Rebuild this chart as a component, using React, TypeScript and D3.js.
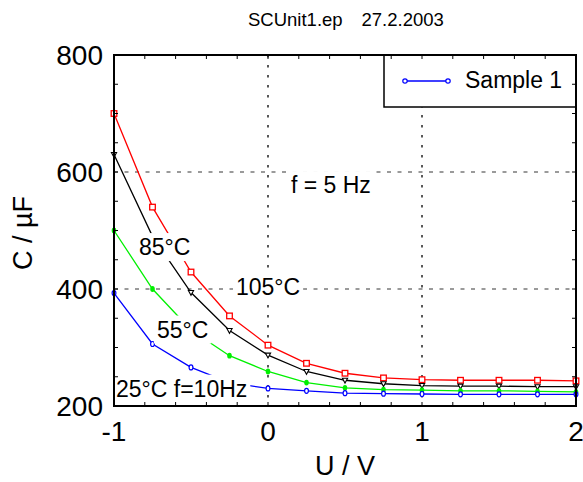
import React, { useEffect, useRef } from "react";
import * as d3 from "d3";

// ---- data ----
const voltages = [-1, -0.75, -0.5, -0.25, 0, 0.25, 0.5, 0.75, 1, 1.25, 1.5, 1.75, 2];
const c105 = [700, 540, 429, 354, 304, 273, 256, 248, 245, 244, 244, 244, 243];
const c85 = [630, 490, 394, 329, 287, 259, 244, 238, 235, 234, 234, 233, 233];
const c55 = [500, 400, 330, 286, 259, 240, 231, 228, 227, 226, 226, 225, 224];
const c25 = [393, 306, 266, 240, 230, 226, 222, 221, 220.5, 220, 220, 220, 220];
const xTicks = [-1, 0, 1, 2];
const yTicks = [200, 400, 600, 800];
const xGrid = [0, 1];
const yGrid = [400, 600];
const titleParts = ["SCUnit1.ep", "27.2.2003"];
const legendLabels = ["Sample 1"];
const annotationTexts = ["85°C", "105°C", "55°C", "25°C f=10Hz", "f = 5 Hz"];

const FONT = "'Liberation Sans', Arial, Helvetica, sans-serif";

export default function App() {
  const ref = useRef<SVGSVGElement>(null);

  useEffect(() => {
    const svg = d3.select(ref.current);
    svg.selectAll("*").remove();

    const L = 114, R = 576, T = 55, B = 406;
    const x = d3.scaleLinear().domain([-1, 2]).range([L, R]);
    const y = d3.scaleLinear().domain([200, 800]).range([B, T]);

    svg.append("rect").attr("width", 583).attr("height", 482).attr("fill", "#fff");

    // title
    svg.append("text").attr("x", 248).attr("y", 25.5).attr("font-family", FONT)
      .attr("font-size", 18.5).text(titleParts[0]);
    svg.append("text").attr("x", 361.5).attr("y", 25.5).attr("font-family", FONT)
      .attr("font-size", 18.5).text(titleParts[1]);

    // grid
    yGrid.forEach((v) => {
      svg.append("line").attr("x1", L).attr("x2", R).attr("y1", y(v)).attr("y2", y(v))
        .attr("stroke", "#7a7a7a").attr("stroke-width", 1.3).attr("stroke-dasharray", "4,6.5");
    });
    xGrid.forEach((v) => {
      svg.append("line").attr("x1", x(v)).attr("x2", x(v)).attr("y1", T).attr("y2", B)
        .attr("stroke", "#222").attr("stroke-width", 1.5).attr("stroke-dasharray", "2.5,7.5");
    });

    // series
    const series = [
      { values: c105, color: "#ff0000", marker: "square" },
      { values: c85, color: "#000000", marker: "triangle" },
      { values: c55, color: "#00f000", marker: "dot" },
      { values: c25, color: "#0000ff", marker: "circle" },
    ];
    const line = d3.line<number>().x((_, i) => x(voltages[i])).y((d) => y(d));
    series.forEach((s) => {
      svg.append("path").attr("d", line(s.values) as string).attr("fill", "none")
        .attr("stroke", s.color).attr("stroke-width", 1.3);
      const g = svg.append("g");
      s.values.forEach((v, i) => {
        const px = x(voltages[i]), py = y(v);
        if (s.marker === "square") {
          g.append("rect").attr("x", px - 2.8).attr("y", py - 2.8).attr("width", 5.6).attr("height", 5.6)
            .attr("fill", "#fff").attr("stroke", s.color).attr("stroke-width", 1.3);
        } else if (s.marker === "triangle") {
          g.append("path").attr("d", `M${px - 2.6},${py - 2}L${px + 2.6},${py - 2}L${px},${py + 2.8}Z`)
            .attr("fill", "#fff").attr("stroke", s.color).attr("stroke-width", 1.1);
        } else if (s.marker === "dot") {
          g.append("ellipse").attr("cx", px).attr("cy", py).attr("rx", 2.3).attr("ry", 2.9)
            .attr("fill", s.color);
        } else {
          g.append("ellipse").attr("cx", px).attr("cy", py).attr("rx", 1.9).attr("ry", 2.5)
            .attr("fill", "#fff").attr("stroke", s.color).attr("stroke-width", 1.2);
        }
      });
    });

    // annotations (positions in data units)
    const annPos = [
      [-0.838, 458], [-0.208, 389.7], [-0.721, 317], [-0.987, 216], [0.149, 564],
    ];
    annotationTexts.forEach((t, i) => {
      const g = svg.append("g");
      const txt = g.append("text").attr("x", x(annPos[i][0])).attr("y", y(annPos[i][1]))
        .attr("font-family", FONT).attr("font-size", 23).text(t);
      const bb = (txt.node() as SVGTextElement).getBBox();
      g.insert("rect", "text").attr("x", bb.x - 3).attr("y", bb.y - 1)
        .attr("width", bb.width + 6).attr("height", bb.height + 2).attr("fill", "#fff");
    });

    // legend
    const lg = svg.append("g");
    lg.append("rect").attr("x", 384).attr("y", T).attr("width", R - 384).attr("height", 52)
      .attr("fill", "#fff").attr("stroke", "#000").attr("stroke-width", 1.5);
    lg.append("line").attr("x1", 405).attr("x2", 448).attr("y1", 81).attr("y2", 81)
      .attr("stroke", "#0000ff").attr("stroke-width", 1.3);
    [405, 448].forEach((cx) => {
      lg.append("ellipse").attr("cx", cx).attr("cy", 81).attr("rx", 2.2).attr("ry", 2.2)
        .attr("fill", "#fff").attr("stroke", "#0000ff").attr("stroke-width", 1.2);
    });
    lg.append("text").attr("x", 465).attr("y", 87.5).attr("font-family", FONT)
      .attr("font-size", 23).text(legendLabels[0]);

    // ticks
    const tk = svg.append("g").attr("stroke", "#000").attr("stroke-width", 1);
    d3.range(-0.8, 2, 0.2).forEach((v) => {
      tk.append("line").attr("x1", x(v)).attr("x2", x(v)).attr("y1", B).attr("y2", B - 4);
      tk.append("line").attr("x1", x(v)).attr("x2", x(v)).attr("y1", T).attr("y2", T + 4);
    });
    d3.range(250, 800, 50).forEach((v) => {
      tk.append("line").attr("x1", L).attr("x2", L + 4).attr("y1", y(v)).attr("y2", y(v));
      tk.append("line").attr("x1", R).attr("x2", R - 4).attr("y1", y(v)).attr("y2", y(v));
    });

    // frame
    svg.append("rect").attr("x", L).attr("y", T).attr("width", R - L).attr("height", B - T)
      .attr("fill", "none").attr("stroke", "#000").attr("stroke-width", 2);

    // tick labels
    yTicks.forEach((v) => {
      svg.append("text").attr("x", 103).attr("y", y(v) + 10).attr("text-anchor", "end")
        .attr("font-family", FONT).attr("font-size", 28).text(String(v));
    });
    xTicks.forEach((v) => {
      svg.append("text").attr("x", x(v)).attr("y", 441).attr("text-anchor", "middle")
        .attr("font-family", FONT).attr("font-size", 28).text(String(v));
    });

    // axis titles
    svg.append("text").attr("x", (L + R) / 2).attr("y", 475).attr("text-anchor", "middle")
      .attr("font-family", FONT).attr("font-size", 27).text("U / V");
    svg.append("text").attr("transform", `translate(32,233) rotate(-90)`).attr("text-anchor", "middle")
      .attr("font-family", FONT).attr("font-size", 27).text("C / µF");
  }, []);

  return (
    <svg ref={ref} width={583} height={482}
      style={{ position: "absolute", left: 0, top: 0, display: "block", background: "#fff" }} />
  );
}
